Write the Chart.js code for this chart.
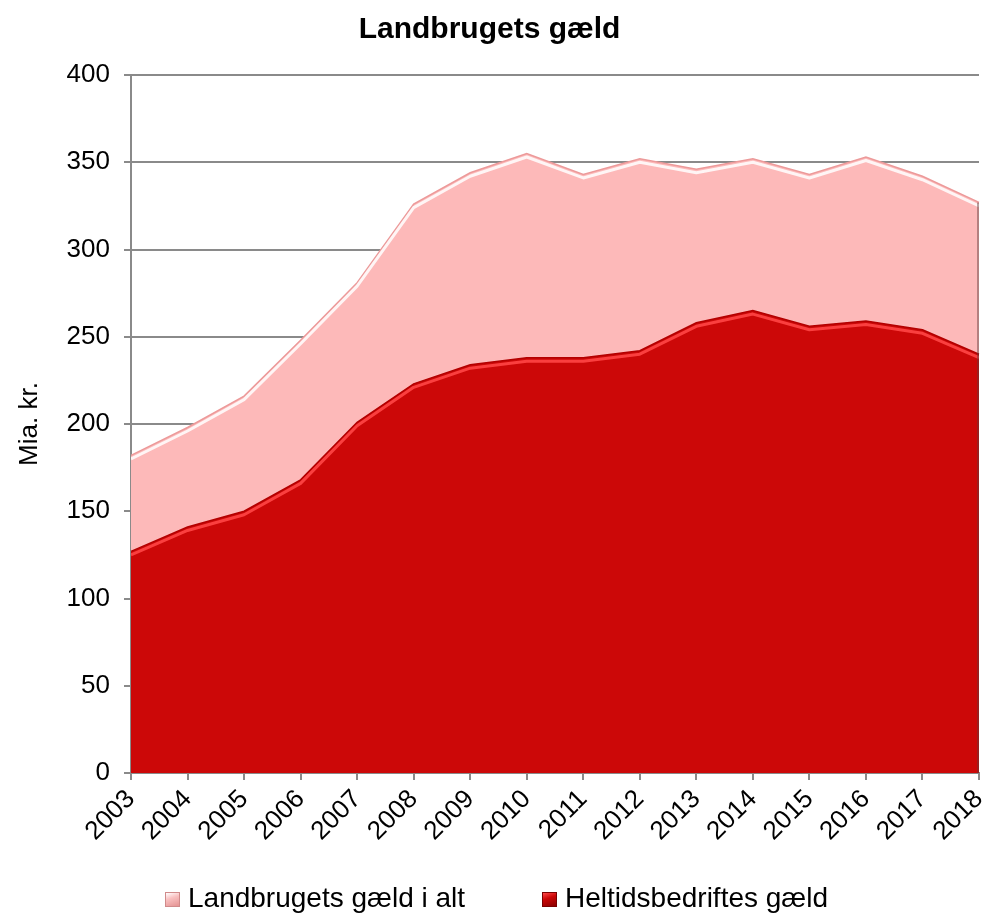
<!DOCTYPE html>
<html>
<head>
<meta charset="utf-8">
<script src="https://cdn.jsdelivr.net/npm/chart.js@4.4.1/dist/chart.umd.min.js"></script>
<style>
    body { margin: 0; background: #fff; }
    #wrap { position: relative; width: 984px; height: 913px; overflow: hidden; }
    .legend-text {
        position: absolute; top: 883px; white-space: nowrap; line-height: 30px;
        font-family: 'Liberation Sans', Arial, sans-serif; font-size: 28px; color: #000;
    }
    .legend-box { position: absolute; top: 892px; width: 15px; height: 15px; box-sizing: border-box; }
</style>
</head>
<body>
<div id="wrap">
    <canvas id="chartCanvas" width="984" height="913"></canvas>
    <span class="legend-box" style="left:165px;background:linear-gradient(160deg,#fff 0%,#f9c0c0 40%,#e49292 100%);border:1px solid #d08a8a"></span>
    <span class="legend-text" style="left:188px">Landbrugets gæld i alt</span>
    <span class="legend-box" style="left:542px;background:linear-gradient(160deg,#ff4a4a 0%,#cc0606 40%,#8a0000 100%);border:1px solid #7a0000"></span>
    <span class="legend-text" style="left:565px">Heltidsbedriftes gæld</span>
</div>
<script>
const years = ['2003', '2004', '2005', '2006', '2007', '2008', '2009', '2010',
               '2011', '2012', '2013', '2014', '2015', '2016', '2017', '2018'];
// Mia. kr.
const totalDebt = [182, 198, 216, 248, 281, 326, 344, 355, 343, 352, 346, 352, 343, 353, 342, 327];
const fulltimeDebt = [127, 141, 150, 168, 201, 223, 234, 238, 238, 242, 258, 265, 256, 259, 254, 240];
const yTicks = [0, 50, 100, 150, 200, 250, 300, 350, 400];

const FONT = "'Liberation Sans', Arial, sans-serif";
const GRID = '#8a8a8a';

// light band just under the top edge of each area, gives the bevelled look
const bevelPlugin = {
    id: 'bevel',
    afterDatasetsDraw(chart) {
        const ctx = chart.ctx;
        const area = chart.chartArea;
        ctx.save();
        ctx.beginPath();
        ctx.rect(area.left, area.top, area.right - area.left, area.bottom - area.top);
        ctx.clip();
        chart.data.datasets.forEach((ds, i) => {
            const pts = chart.getDatasetMeta(i).data;
            ctx.beginPath();
            pts.forEach((p, j) => {
                if (j === 0) ctx.moveTo(p.x, p.y + 3.5);
                else ctx.lineTo(p.x, p.y + 3.5);
            });
            ctx.lineJoin = 'round';
            ctx.lineWidth = 3;
            ctx.strokeStyle = ds.bevelColor;
            ctx.stroke();
        });
        // shaded right edge of the outer area
        const last = chart.getDatasetMeta(1).data.at(-1);
        ctx.beginPath();
        ctx.moveTo(last.x - 1, last.y);
        ctx.lineTo(last.x - 1, area.bottom);
        ctx.lineWidth = 2;
        ctx.strokeStyle = 'rgba(90, 60, 60, 0.45)';
        ctx.stroke();
        ctx.restore();
    }
};

const ctx = document.getElementById('chartCanvas').getContext('2d');
new Chart(ctx, {
    type: 'line',
    data: {
        labels: years,
        datasets: [{
            label: 'Heltidsbedriftes gæld',
            data: fulltimeDebt,
            fill: 'origin',
            backgroundColor: '#cc0808',
            borderColor: '#b30000',
            borderWidth: 1.5,
            bevelColor: 'rgba(255, 70, 70, 0.9)',
            pointRadius: 0,
            tension: 0
        }, {
            label: 'Landbrugets gæld i alt',
            data: totalDebt,
            fill: 'origin',
            backgroundColor: '#fdb9b9',
            borderColor: '#ec9a9a',
            borderWidth: 1.5,
            bevelColor: 'rgba(255, 255, 255, 0.85)',
            pointRadius: 0,
            tension: 0
        }]
    },
    options: {
        responsive: false,
        animation: false,
        layout: { padding: { left: 0, right: 5, top: 0, bottom: 0 } },
        plugins: {
            legend: { display: false },
            tooltip: { enabled: false },
            title: {
                display: true,
                text: 'Landbrugets gæld',
                color: '#000',
                font: { family: FONT, size: 30, weight: 'bold' },
                padding: { top: 12, bottom: 27 }
            }
        },
        scales: {
            x: {
                offset: false,
                afterFit: s => { s.height = 140; s.paddingRight = 0; s.paddingLeft = 0; },
                border: { color: GRID, width: 2 },
                grid: { drawOnChartArea: false, drawTicks: true, tickLength: 7, color: GRID, lineWidth: 2 },
                ticks: {
                    color: '#000',
                    autoSkip: false,
                    minRotation: 45,
                    maxRotation: 45,
                    padding: 4,
                    font: { family: FONT, size: 26 }
                }
            },
            y: {
                min: 0,
                max: 400,
                afterFit: s => { s.width = 131; s.paddingTop = 0; s.paddingBottom = 0; },
                afterBuildTicks: s => { s.ticks = yTicks.map(v => ({ value: v })); },
                border: { color: GRID, width: 2 },
                grid: { color: GRID, lineWidth: 2, tickLength: 7 },
                ticks: {
                    color: '#000',
                    padding: 14,
                    font: { family: FONT, size: 26 }
                },
                title: {
                    display: true,
                    text: 'Mia. kr.',
                    color: '#000',
                    font: { family: FONT, size: 26 },
                    padding: { top: 14, bottom: 0 }
                }
            }
        }
    },
    plugins: [bevelPlugin]
});
</script>
</body>
</html>
